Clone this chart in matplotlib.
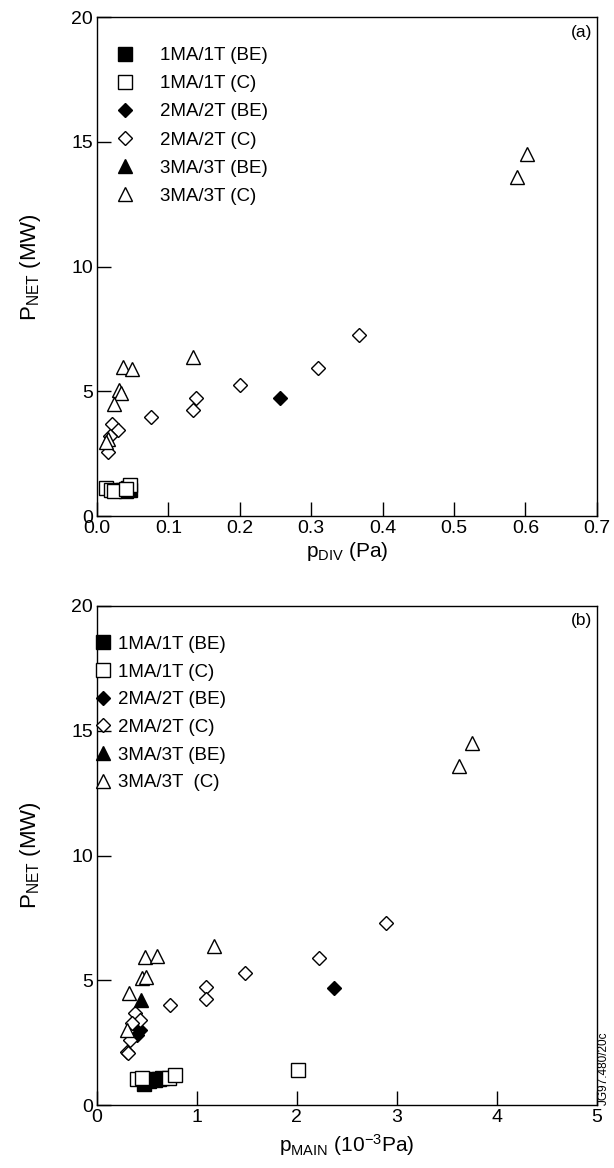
import matplotlib
matplotlib.use("Agg")
import matplotlib.pyplot as plt

plt.rcParams['font.family'] = ['Liberation Sans', 'DejaVu Sans']
plt.rcParams['mathtext.fontset'] = 'custom'
plt.rcParams['mathtext.rm'] = 'Liberation Sans'
plt.rcParams['mathtext.it'] = 'Liberation Sans:italic'

# panel (a): P_NET vs p_DIV
a_1be_x = [0.036, 0.040, 0.042, 0.046, 0.044]
a_1be_y = [1.05, 1.00, 1.10, 1.05, 1.12]
a_1c_x = [0.013, 0.020, 0.024, 0.046, 0.040]
a_1c_y = [1.12, 1.04, 1.00, 1.24, 1.10]
a_2be_x = [0.256]
a_2be_y = [4.73]
a_2c_x = [0.367, 0.310, 0.200, 0.139, 0.135, 0.076, 0.021, 0.029, 0.018, 0.016]
a_2c_y = [7.25, 5.93, 5.25, 4.73, 4.25, 3.97, 3.70, 3.45, 3.20, 2.57]
a_3be_x = []
a_3be_y = []
a_3c_x = [0.588, 0.602, 0.134, 0.036, 0.049, 0.031, 0.034, 0.024, 0.015, 0.012]
a_3c_y = [13.6, 14.5, 6.37, 5.97, 5.90, 5.05, 4.93, 4.50, 3.10, 2.95]

# panel (b): P_NET vs p_MAIN
b_1be_x = [0.47, 0.52, 0.58, 0.62, 0.65, 0.50]
b_1be_y = [0.85, 0.95, 1.00, 1.05, 1.10, 1.05]
b_1c_x = [0.40, 0.45, 0.72, 0.78, 2.01]
b_1c_y = [1.05, 1.10, 1.10, 1.20, 1.40]
b_2be_x = [2.37, 0.43, 0.40]
b_2be_y = [4.69, 3.00, 2.80]
b_2c_x = [2.89, 2.22, 1.48, 1.09, 1.09, 0.73, 0.38, 0.43, 0.35, 0.33, 0.30, 0.31]
b_2c_y = [7.30, 5.89, 5.29, 4.73, 4.25, 4.00, 3.69, 3.40, 3.29, 2.60, 2.12, 2.08]
b_3be_x = [0.44]
b_3be_y = [4.20]
b_3c_x = [3.62, 3.75, 1.17, 0.48, 0.60, 0.45, 0.49, 0.32, 0.30]
b_3c_y = [13.6, 14.5, 6.37, 5.93, 5.97, 5.09, 5.13, 4.49, 3.00]

labels_a = ['1MA/1T (BE)', '1MA/1T (C)', '2MA/2T (BE)', '2MA/2T (C)', '3MA/3T (BE)', '3MA/3T (C)']
labels_b = ['1MA/1T (BE)', '1MA/1T (C)', '2MA/2T (BE)', '2MA/2T (C)', '3MA/3T (BE)', '3MA/3T  (C)']
markers = ['s', 's', 'D', 'D', '^', '^']
fills = ['black', 'white', 'black', 'white', 'black', 'white']
sizes = [10.5, 10.5, 7.5, 7.5, 10.5, 10.5]

fig = plt.figure(figsize=(6.14, 11.68), dpi=100)
ax1 = fig.add_axes([0.158, 0.5582, 0.814, 0.4272])
ax2 = fig.add_axes([0.158, 0.0539, 0.814, 0.4273])


def draw(ax, series, labels):
    for (x, y), lab, m, fc, ms in zip(series, labels, markers, fills, sizes):
        ax.plot(x, y, linestyle='none', marker=m, ms=ms, mfc=fc, mec='black',
                mew=1.0, label=lab)
    ax.set_ylim(0, 20)
    ax.set_yticks([0, 5, 10, 15, 20])
    ax.tick_params(direction='in', length=10, width=1, labelsize=14,
                   top=False, right=False, pad=3)
    for s in ax.spines.values():
        s.set_linewidth(1.0)
    ax.set_ylabel(r'P$_{\mathregular{NET}}$ (MW)', fontsize=16, labelpad=20)


draw(ax1, [(a_1be_x, a_1be_y), (a_1c_x, a_1c_y), (a_2be_x, a_2be_y),
           (a_2c_x, a_2c_y), (a_3be_x, a_3be_y), (a_3c_x, a_3c_y)], labels_a)
ax1.set_xlim(0, 0.7)
ax1.set_xticks([0, 0.1, 0.2, 0.3, 0.4, 0.5, 0.6, 0.7])
ax1.set_xticklabels(['0.0', '0.1', '0.2', '0.3', '0.4', '0.5', '0.6', '0.7'])
ax1.set_xlabel(r'p$_{\mathregular{DIV}}$ (Pa)', fontsize=15, labelpad=2)
ax1.legend(loc='upper left', bbox_to_anchor=(0.037, 0.94), frameon=False,
           fontsize=13.5, handlelength=1.0, handletextpad=1.37,
           labelspacing=0.59, borderpad=0, borderaxespad=0)
ax1.text(0.99, 0.985, '(a)', transform=ax1.transAxes, ha='right', va='top',
         fontsize=12.5)

draw(ax2, [(b_1be_x, b_1be_y), (b_1c_x, b_1c_y), (b_2be_x, b_2be_y),
           (b_2c_x, b_2c_y), (b_3be_x, b_3be_y), (b_3c_x, b_3c_y)], labels_b)
ax2.set_xlim(0, 5)
ax2.set_xticks([0, 1, 2, 3, 4, 5])
ax2.set_xlabel(r'p$_{\mathregular{MAIN}}$ (10$^{\mathregular{-3}}$Pa)',
               fontsize=15, labelpad=4)
ax2.legend(loc='upper left', bbox_to_anchor=(-0.001, 0.94), frameon=False,
           fontsize=13.5, handlelength=0.7, handletextpad=0.45,
           labelspacing=0.56, borderpad=0, borderaxespad=0)
ax2.text(0.99, 0.985, '(b)', transform=ax2.transAxes, ha='right', va='top',
         fontsize=12.5)

fig.text(0.983, 0.085, 'JG97.480/20c', rotation=90, ha='center', va='center',
         fontsize=8.5)

fig.savefig('out.png', dpi=100)
